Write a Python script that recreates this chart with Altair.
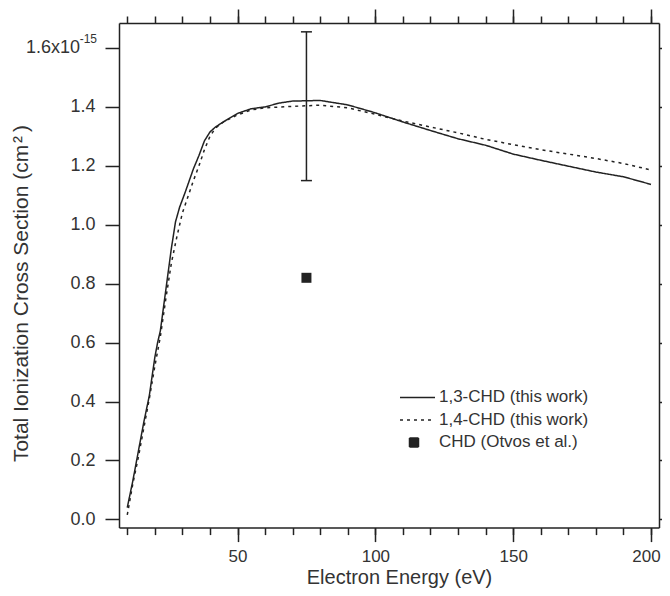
import altair as alt
import pandas as pd

# ---------------- data ----------------
series_names = ["1,3-CHD (this work)", "1,4-CHD (this work)", "CHD (Otvos et al.)"]

energy_13chd = [10, 12, 14, 16, 18, 20, 21, 22, 24, 26,
                27.5, 29, 31, 34, 36, 38, 40, 42, 45, 50,
                55, 60, 65, 70, 80, 90, 100, 110, 120, 130,
                140, 150, 160, 170, 180, 190, 200]
cs_13chd = [0.04, 0.13, 0.23, 0.33, 0.42, 0.55, 0.60, 0.64, 0.78, 0.92,
            1.01, 1.06, 1.11, 1.19, 1.235, 1.285, 1.315, 1.332, 1.35, 1.378,
            1.394, 1.40, 1.413, 1.42, 1.422, 1.407, 1.38, 1.349, 1.32, 1.292,
            1.27, 1.24, 1.219, 1.199, 1.179, 1.163, 1.137]

energy_14chd = [10, 12, 14, 16, 18, 20, 22, 24, 26, 28,
                30, 32, 34, 36, 38, 40, 42, 45, 50,
                55, 60, 70, 80, 90, 100, 110, 120, 130, 140,
                150, 160, 170, 180, 190, 200]
cs_14chd = [0.015, 0.12, 0.21, 0.31, 0.41, 0.52, 0.62, 0.75, 0.87, 0.96,
            1.04, 1.095, 1.15, 1.2, 1.255, 1.30, 1.328, 1.35, 1.373,
            1.39, 1.397, 1.402, 1.406, 1.397, 1.375, 1.352, 1.332, 1.312, 1.29,
            1.272, 1.255, 1.24, 1.225, 1.208, 1.186]

otvos_energy = [75]
otvos_cs = [0.82]
err_low = [1.15]
err_high = [1.655]

x_major = [50, 100, 150, 200]
x_minor = [10, 20, 30, 40, 50, 60, 70, 80, 90, 100, 110, 120, 130, 140,
           150, 160, 170, 180, 190, 200]
y_ticks = [0.0, 0.2, 0.4, 0.6, 0.8, 1.0, 1.2, 1.4, 1.6]
top_label_base = ["1.6x10"]
top_label_exp = ["-15"]

x_domain = [7, 202.9]
y_domain = [-0.028, 1.685]

# ---------------- tables ----------------
lines_df = pd.concat([
    pd.DataFrame({"energy": energy_13chd, "cs": cs_13chd, "series": series_names[0]}),
    pd.DataFrame({"energy": energy_14chd, "cs": cs_14chd, "series": series_names[1]}),
], ignore_index=True)
otvos_df = pd.DataFrame({"energy": otvos_energy, "cs": otvos_cs,
                         "lo": err_low, "hi": err_high})
caps_df = pd.DataFrame({"energy": otvos_energy * 2, "cs": err_low + err_high})
lab_df = pd.DataFrame({"energy": [x_domain[0]], "cs": [1.6],
                       "base": top_label_base, "exp": top_label_exp})

FONT = "Liberation Sans"
INK = "#222222"
TXT = "#333333"

xs = alt.Scale(domain=x_domain, nice=False, zero=False)
ys = alt.Scale(domain=y_domain, nice=False, zero=False)

x_bottom_major = alt.Axis(orient="bottom", values=x_major, tickSize=14, labelPadding=7,
                          labelFontSize=17,
                          format="d", labelFlush=False, title="Electron Energy (eV)",
                          labelOffset={"condition": {"test": "datum.value >= 200", "value": -5},
                                       "value": 0},
                          titleFontSize=20,
                          titleX=280, titleY=56, titleBaseline="alphabetic")
x_bottom_minor = alt.Axis(orient="bottom", values=x_minor, tickSize=7, labels=False,
                          domain=False, title=None)
x_top_major = alt.Axis(orient="top", values=x_major, tickSize=14, labels=False, title=None)
x_top_minor = alt.Axis(orient="top", values=x_minor, tickSize=7, labels=False,
                       domain=False, title=None)
y_left = alt.Axis(orient="left", values=y_ticks, tickSize=14, labelPadding=10,
                  labelExpr="datum.value >= 1.55 ? '' : format(datum.value, '.1f')",
                  title="Total Ionization Cross Section (cm\u200a²\u2009)",
                  titleX=-88, titleY=270)
y_right = alt.Axis(orient="right", values=y_ticks, tickSize=14, labels=False, title=None)

legend = alt.Legend(
    title=None, orient="none", legendX=290, legendY=366, padding=0,
    labelFont=FONT, labelFontSize=17, labelColor=TXT, labelOffset=13,
    symbolSize=100, symbolStrokeWidth=1.5, symbolStrokeColor=INK,
    symbolFillColor=INK, symbolOpacity=1, rowPadding=4.5,
    symbolType=alt.ExprRef(expr="datum.value === 'CHD (Otvos et al.)' ? 'M-1.6,-0.9H0.2V0.9H-1.6Z' : 'M-3.5,0H3.5'"),
)

lines = alt.Chart(lines_df).mark_line(color=INK, strokeWidth=1.5).encode(
    x=alt.X("energy:Q", scale=xs, axis=x_bottom_major),
    y=alt.Y("cs:Q", scale=ys, axis=y_left),
    strokeDash=alt.StrokeDash("series:N",
                              scale=alt.Scale(domain=series_names,
                                              range=[[1, 0], [3, 4], [1, 0]]),
                              legend=legend),
)

err_rule = alt.Chart(otvos_df).mark_rule(color=INK, strokeWidth=1.5).encode(
    x=alt.X("energy:Q", scale=xs, axis=x_bottom_minor),
    y=alt.Y("lo:Q", scale=ys, axis=None),
    y2="hi:Q",
)

caps = alt.Chart(caps_df).mark_tick(color=INK, thickness=1.5, size=11,
                                    orient="horizontal", opacity=1).encode(
    x=alt.X("energy:Q", scale=xs, axis=x_top_major),
    y=alt.Y("cs:Q", scale=ys, axis=y_right),
)

square = alt.Chart(otvos_df).mark_square(size=100, color=INK, filled=True, opacity=1).encode(
    x=alt.X("energy:Q", scale=xs, axis=x_top_minor),
    y=alt.Y("cs:Q", scale=ys, axis=None),
)

lab_main = alt.Chart(lab_df).mark_text(align="right", baseline="middle", dx=-39,
                                       font=FONT, fontSize=18, color=TXT).encode(
    x=alt.X("energy:Q", scale=xs, axis=None),
    y=alt.Y("cs:Q", scale=ys, axis=None),
    text="base:N",
)
lab_exp = alt.Chart(lab_df).mark_text(align="right", baseline="middle", dx=-22, dy=-9,
                                      font=FONT, fontSize=12, color=TXT).encode(
    x=alt.X("energy:Q", scale=xs, axis=None),
    y=alt.Y("cs:Q", scale=ys, axis=None),
    text="exp:N",
)

chart = alt.layer(lines, err_rule, caps, square, lab_main, lab_exp).resolve_axis(
    x="independent", y="independent"
).properties(
    width=540, height=504.6,
    autosize=alt.AutoSizeParams(type="none"),
    padding={"left": 111, "top": 15, "right": 3, "bottom": 60},
).configure_view(stroke=None).configure_axis(
    grid=False, domainColor=INK, domainWidth=1.5, tickColor=INK, tickWidth=1.5,
    labelFont=FONT, labelFontSize=18, labelColor=TXT,
    titleFont=FONT, titleFontSize=21, titleColor=TXT, titleFontWeight="normal",
)

chart.save("out.html", embed_options={"renderer": "svg", "actions": False})
